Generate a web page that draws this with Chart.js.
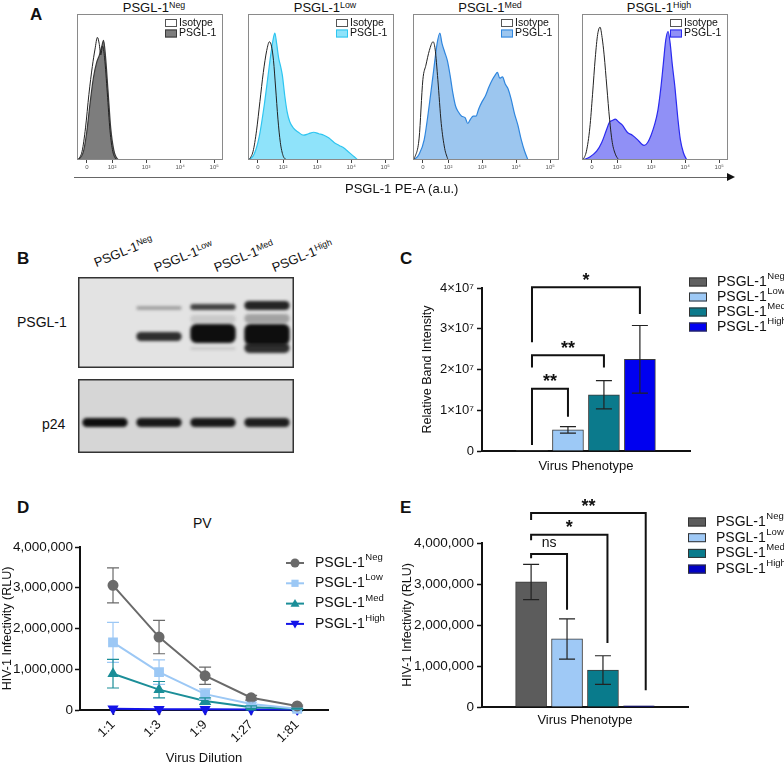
<!DOCTYPE html>
<html>
<head>
<meta charset="utf-8">
<script src="https://cdn.jsdelivr.net/npm/chart.js@4.4.0/dist/chart.umd.min.js"></script>
<style>
    body { margin: 0; background: #fff; }
    #fig { position: relative; width: 784px; height: 765px; overflow: hidden; font-family: "Liberation Sans", Arial, sans-serif; color: #111; }
    #fig canvas { position: absolute; }
    .t { position: absolute; white-space: nowrap; line-height: 1; }
    .t sup { font-size: 0.68em; vertical-align: baseline; position: relative; top: -0.5em; }
    .letter { font-weight: bold; font-size: 17px; }
    .ftitle { width: 146px; text-align: center; font-size: 13px; top: 1px; }
    .lane { font-size: 13px; transform: rotate(-22deg); transform-origin: 0 100%; }
</style>
</head>
<body>
<div id="fig">
    <div class="t letter" style="left:30px;top:6px">A</div>
    <div class="t ftitle" style="left:81px">PSGL-1<sup>Neg</sup></div>
    <div class="t ftitle" style="left:252px">PSGL-1<sup>Low</sup></div>
    <div class="t ftitle" style="left:417px">PSGL-1<sup>Med</sup></div>
    <div class="t ftitle" style="left:586px">PSGL-1<sup>High</sup></div>
    <canvas id="flow0" width="156" height="163" style="left:72px;top:12px"></canvas>
    <canvas id="flow1" width="156" height="163" style="left:243px;top:12px"></canvas>
    <canvas id="flow2" width="156" height="163" style="left:408px;top:12px"></canvas>
    <canvas id="flow3" width="156" height="163" style="left:577px;top:12px"></canvas>
    <div style="position:absolute;left:74px;top:177px;width:654px;height:1px;background:#666"></div>
    <div style="position:absolute;left:727px;top:173px;width:0;height:0;border-left:8px solid #111;border-top:4.5px solid transparent;border-bottom:4.5px solid transparent"></div>
    <div class="t" style="left:345px;top:182px;font-size:13px">PSGL-1 PE-A (a.u.)</div>

    <div class="t letter" style="left:17px;top:250px">B</div>
    <div class="t lane" style="left:97px;top:256px">PSGL-1<sup>Neg</sup></div>
    <div class="t lane" style="left:157px;top:261px">PSGL-1<sup>Low</sup></div>
    <div class="t lane" style="left:217px;top:261px">PSGL-1<sup>Med</sup></div>
    <div class="t lane" style="left:275px;top:261px">PSGL-1<sup>High</sup></div>
    <div class="t" style="left:17px;top:315px;font-size:14px">PSGL-1</div>
    <div class="t" style="left:42px;top:417px;font-size:14px">p24</div>
    <canvas id="blotTop" width="216" height="91" style="left:78px;top:277px"></canvas>
    <canvas id="blotBottom" width="216" height="74" style="left:78px;top:379px"></canvas>

    <div class="t letter" style="left:400px;top:250px">C</div>
    <canvas id="chartC" width="384" height="215" style="left:400px;top:265px"></canvas>

    <div class="t letter" style="left:17px;top:499px">D</div>
    <div class="t" style="left:193px;top:516px;font-size:14px">PV</div>
    <canvas id="chartD" width="400" height="232" style="left:0px;top:535px"></canvas>

    <div class="t letter" style="left:400px;top:499px">E</div>
    <canvas id="chartE" width="384" height="240" style="left:400px;top:495px"></canvas>
</div>
<script>
const FONT = '"Liberation Sans", Arial, sans-serif';

// ---- A: flow histograms, x in decades of the biexponential axis, y = % of mode
const FLOW_TICKS = [1.26, 2, 3, 4, 5];
const FLOW_TICK_LABELS = ['0', '10\u00B2', '10\u00B3', '10\u2074', '10\u2075'];
const FLOW_FILL = ['#7d7d7d', '#8fe3fa', '#9cc6ef', '#9090f6'];
const FLOW_LINE = ['#3a3a3a', '#2ec5f0', '#2f86de', '#2a2af0'];

const NEG_ISO = [[1.0, 0], [1.12, 6], [1.22, 22], [1.32, 45], [1.42, 64], [1.5, 76], [1.57, 84], [1.62, 80], [1.67, 72], [1.72, 78], [1.78, 70], [1.86, 46], [1.94, 20], [2.02, 6], [2.12, 0]];
const NEG_PSGL = [[1.0, 0], [1.15, 5], [1.25, 18], [1.35, 38], [1.45, 56], [1.55, 67], [1.63, 72], [1.7, 78], [1.75, 82], [1.8, 73], [1.88, 48], [1.96, 22], [2.05, 7], [2.15, 1], [2.25, 0]];
const LOW_ISO = [[1.0, 0], [1.12, 6], [1.22, 20], [1.32, 40], [1.42, 60], [1.52, 75], [1.6, 81], [1.66, 78], [1.72, 68], [1.78, 50], [1.85, 28], [1.92, 12], [2.0, 3], [2.1, 0]];
const LOW_PSGL = [[1.0, 0], [1.15, 4], [1.3, 16], [1.45, 38], [1.55, 56], [1.65, 74], [1.72, 84], [1.76, 87], [1.81, 80], [1.87, 70], [1.93, 64], [1.98, 58], [2.05, 44], [2.12, 33], [2.2, 26], [2.3, 22], [2.45, 19], [2.6, 17], [2.75, 18], [2.9, 19], [3.05, 18], [3.2, 17], [3.35, 15], [3.5, 12], [3.65, 10], [3.8, 8], [3.9, 6], [4.0, 4], [4.1, 2], [4.2, 0]];
const MED_ISO = [[1.0, 0], [1.15, 15], [1.26, 55], [1.35, 65], [1.45, 75], [1.56, 81], [1.62, 76], [1.7, 55], [1.8, 25], [1.9, 8], [2.0, 0]];
const MED_PSGL = [[1.0, 0], [1.15, 4], [1.3, 14], [1.45, 38], [1.58, 62], [1.68, 80], [1.76, 87], [1.82, 80], [1.9, 74], [1.98, 68], [2.06, 58], [2.14, 46], [2.22, 37], [2.3, 33], [2.4, 30], [2.5, 29], [2.58, 25], [2.66, 28], [2.74, 30], [2.82, 30], [2.9, 35], [3.0, 40], [3.1, 44], [3.2, 50], [3.3, 55], [3.38, 58], [3.45, 60], [3.52, 56], [3.6, 57], [3.68, 52], [3.76, 49], [3.85, 42], [3.95, 32], [4.05, 24], [4.15, 14], [4.25, 6], [4.35, 0]];
const HIGH_ISO = [[1.0, 0], [1.1, 6], [1.2, 22], [1.28, 45], [1.36, 70], [1.43, 86], [1.5, 91], [1.56, 84], [1.62, 72], [1.7, 50], [1.78, 28], [1.86, 12], [1.95, 4], [2.05, 0]];
const HIGH_PSGL = [[1.0, 0], [1.2, 2], [1.4, 6], [1.55, 12], [1.68, 20], [1.78, 26], [1.86, 27], [1.95, 28], [2.05, 26], [2.15, 24], [2.3, 19], [2.45, 17], [2.6, 14], [2.72, 11], [2.8, 10], [2.9, 12], [3.0, 17], [3.1, 24], [3.2, 34], [3.28, 48], [3.36, 66], [3.43, 82], [3.5, 88], [3.56, 80], [3.62, 66], [3.7, 50], [3.78, 30], [3.86, 14], [3.95, 5], [4.05, 0]];

// ---- B: western blot, band extent in px from gel top and band darkness
const LANES = ['Neg', 'Low', 'Med', 'High'];
const BAND_UPPER = [null, [29, 33], [27, 33], [24, 33]];
const BAND_UPPER_INT = [0, 0.3, 0.75, 0.9];
const BAND_SMEAR = [null, null, [38, 46], [37, 46]];
const BAND_SMEAR_INT = [0, 0, 0.12, 0.3];
const BAND_MAIN = [null, [55, 64], [47, 66], [47, 68]];
const BAND_MAIN_INT = [0, 0.85, 1, 1];
const BAND_LOWER = [null, null, [70, 73], [66, 76]];
const BAND_LOWER_INT = [0, 0, 0.12, 0.85];
const BAND_P24 = [[39, 48], [39, 48], [39, 48], [39, 48]];
const BAND_P24_INT = [1, 0.95, 0.95, 0.92];

// ---- C: relative band intensity
const GROUPS = ['Neg', 'Low', 'Med', 'High'];
const C_VALUES = [0, 5.2e6, 1.38e7, 2.25e7];
const C_ERR = [0, 0.8e6, 3.45e6, 8.3e6];
const C_COLORS = ['#606060', '#9dc9f6', '#0b7a8c', '#0000f0'];
const C_BRACKETS = [
    { a: 0, b: 1, y: 1.53e7, la: 0.15e7, lb: 0.84e7, label: '**' },
    { a: 0, b: 2, y: 2.35e7, la: 2.05e7, lb: 2.05e7, label: '**' },
    { a: 0, b: 3, y: 4.02e7, la: 2.67e7, lb: 3.36e7, label: '*' },
];

// ---- D: infectivity vs dilution
const DILUTIONS = ['1:1', '1:3', '1:9', '1:27', '1:81'];
const D_NEG = [3.06e6, 1.79e6, 0.84e6, 0.30e6, 0.10e6];
const D_NEG_ERR = [0.43e6, 0.41e6, 0.21e6, 0.06e6, 0.02e6];
const D_LOW = [1.66e6, 0.93e6, 0.39e6, 0.15e6, 0.03e6];
const D_LOW_ERR = [0.49e6, 0.30e6, 0.13e6, 0.04e6, 0.01e6];
const D_MED = [0.89e6, 0.50e6, 0.22e6, 0.07e6, 0.03e6];
const D_MED_ERR = [0.35e6, 0.20e6, 0.08e6, 0.03e6, 0.01e6];
const D_HIGH = [0.03e6, 0.02e6, 0.02e6, 0.01e6, 0.01e6];
const D_HIGH_ERR = [0, 0, 0, 0, 0];
const D_COLORS = ['#6a6a6a', '#9cc8f5', '#1b8e98', '#1414e8'];
const D_STYLES = ['circle', 'rect', 'triangle', 'triangleDown'];

// ---- E: infectivity at 1:1
const E_VALUES = [3.05e6, 1.66e6, 0.9e6, 0.03e6];
const E_ERR = [0.43e6, 0.49e6, 0.35e6, 0];
const E_COLORS = ['#5c5c5c', '#9fc9f6', '#097b8c', '#0000c4'];
const E_BRACKETS = [
    { a: 0, b: 1, y: 3.73e6, la: 3.63e6, lb: 2.37e6, label: 'ns' },
    { a: 0, b: 2.125, y: 4.2e6, la: 4.07e6, lb: 1.56e6, label: '*' },
    { a: 0, b: 3.19, y: 4.73e6, la: 4.56e6, lb: 0.41e6, label: '**' },
];

Chart.defaults.font.family = FONT;
Chart.defaults.color = '#111';
Chart.defaults.animation = false;
Chart.defaults.plugins.legend.display = false;
Chart.defaults.plugins.tooltip.enabled = false;

function drawRich(ctx, x, y, base, sup, size) {
    ctx.fillStyle = '#111';
    ctx.textAlign = 'left';
    ctx.textBaseline = 'middle';
    ctx.font = `${size}px ${FONT}`;
    ctx.fillText(base, x, y);
    if (sup) {
        const w = ctx.measureText(base).width;
        ctx.font = `${size * 0.68}px ${FONT}`;
        ctx.fillText(sup, x + w + 0.5, y - size * 0.4);
    }
}

function drawMarker(ctx, style, x, y, r) {
    ctx.beginPath();
    if (style === 'circle') {
        ctx.arc(x, y, r, 0, Math.PI * 2);
    } else if (style === 'rect') {
        ctx.rect(x - r * 0.8, y - r * 0.8, r * 1.6, r * 1.6);
    } else if (style === 'triangle') {
        ctx.moveTo(x, y - r); ctx.lineTo(x + r, y + r * 0.7); ctx.lineTo(x - r, y + r * 0.7);
    } else {
        ctx.moveTo(x, y + r); ctx.lineTo(x + r, y - r * 0.7); ctx.lineTo(x - r, y - r * 0.7);
    }
    ctx.closePath();
    ctx.fill();
}

// legend with superscripts, boxes or line+marker
const richLegend = {
    id: 'richLegend',
    afterDraw(chart, args, o) {
        const ctx = chart.ctx;
        ctx.save();
        o.items.forEach((it, i) => {
            const y = o.y + i * o.dy;
            if (it.style) {
                ctx.strokeStyle = it.color;
                ctx.fillStyle = it.color;
                ctx.lineWidth = 2;
                ctx.beginPath();
                ctx.moveTo(o.x - 9, y); ctx.lineTo(o.x + 9, y);
                ctx.stroke();
                drawMarker(ctx, it.style, o.x, y, 4.5);
            } else {
                ctx.fillStyle = it.fill;
                ctx.strokeStyle = it.stroke;
                ctx.lineWidth = 1;
                ctx.fillRect(o.x, y - o.bh / 2, o.bw, o.bh);
                ctx.strokeRect(o.x + 0.5, y - o.bh / 2 + 0.5, o.bw - 1, o.bh - 1);
            }
            drawRich(ctx, o.tx, y, it.text, it.sup, o.size);
        });
        ctx.restore();
    }
};

const frame = {
    id: 'frame',
    beforeDraw(chart, args, o) {
        if (!o.bg) return;
        const { ctx, chartArea: a } = chart;
        ctx.save();
        ctx.fillStyle = o.bg;
        ctx.fillRect(a.left, a.top, a.width, a.height);
        ctx.restore();
    },
    afterDraw(chart, args, o) {
        const { ctx, chartArea: a } = chart;
        const w = o.width || 1;
        ctx.save();
        ctx.strokeStyle = o.color || '#888';
        ctx.lineWidth = w;
        ctx.strokeRect(a.left + w / 2, a.top + w / 2, a.width - w, a.height - w);
        ctx.restore();
    }
};

const blur = {
    id: 'blur',
    beforeDatasetsDraw(chart) { chart.ctx.save(); chart.ctx.filter = 'blur(1.6px)'; },
    afterDatasetsDraw(chart) { chart.ctx.restore(); }
};

const errorBars = {
    id: 'errorBars',
    afterDatasetsDraw(chart, args, o) {
        const { ctx } = chart;
        const y = chart.scales.y;
        ctx.save();
        chart.data.datasets.forEach((ds, i) => {
            const errs = o.errors[i];
            if (!errs) return;
            chart.getDatasetMeta(i).data.forEach((el, j) => {
                const e = errs[j];
                if (!e) return;
                const v = ds.data[j].y;
                const top = y.getPixelForValue(v + e);
                const bot = y.getPixelForValue(v - e);
                ctx.strokeStyle = o.colors[i];
                ctx.lineWidth = o.width;
                ctx.beginPath();
                ctx.moveTo(el.x, top); ctx.lineTo(el.x, bot);
                ctx.moveTo(el.x - o.cap, top); ctx.lineTo(el.x + o.cap, top);
                ctx.moveTo(el.x - o.cap, bot); ctx.lineTo(el.x + o.cap, bot);
                ctx.stroke();
            });
        });
        ctx.restore();
    }
};

const brackets = {
    id: 'brackets',
    afterDraw(chart, args, o) {
        const { ctx, scales: { x, y } } = chart;
        ctx.save();
        ctx.strokeStyle = '#111';
        ctx.fillStyle = '#111';
        ctx.lineWidth = 2;
        o.items.forEach(b => {
            const xa = x.getPixelForValue(b.a);
            const xb = x.getPixelForValue(b.b);
            const yy = y.getPixelForValue(b.y);
            ctx.beginPath();
            ctx.moveTo(xa, y.getPixelForValue(b.la));
            ctx.lineTo(xa, yy);
            ctx.lineTo(xb, yy);
            ctx.lineTo(xb, y.getPixelForValue(b.lb));
            ctx.stroke();
            ctx.font = b.label === 'ns' ? `14px ${FONT}` : `bold 18px ${FONT}`;
            ctx.textAlign = 'center';
            ctx.textBaseline = 'alphabetic';
            const m = ctx.measureText(b.label);
            const yc = yy - 11;
            ctx.fillText(b.label, (xa + xb) / 2, yc + (m.actualBoundingBoxAscent - m.actualBoundingBoxDescent) / 2);
        });
        ctx.restore();
    }
};

function toPoints(pairs) {
    return pairs.map(([x, y]) => ({ x, y }));
}

function renderFlowChart(idx, iso, psgl) {
    const elm = document.getElementById('flow' + idx);
    new Chart(elm.getContext('2d'), {
        type: 'line',
        data: {
            datasets: [
                { data: toPoints(iso), borderColor: '#222', borderWidth: 1, fill: false, pointRadius: 0, cubicInterpolationMode: 'monotone' },
                { data: toPoints(psgl), borderColor: FLOW_LINE[idx], backgroundColor: FLOW_FILL[idx], borderWidth: 1.2, fill: 'origin', pointRadius: 0, cubicInterpolationMode: 'monotone' },
            ],
        },
        options: {
            responsive: false,
            layout: { padding: { left: 5, right: 5, top: 2, bottom: 0 } },
            scales: {
                x: {
                    type: 'linear', min: 0.97, max: 5.26,
                    afterBuildTicks: axis => { axis.ticks = FLOW_TICKS.map(v => ({ value: v })); },
                    afterFit: scale => { scale.height = 15; },
                    ticks: { autoSkip: false, maxRotation: 0, font: { size: 6 }, color: '#555', padding: 1, callback: (v, i) => FLOW_TICK_LABELS[i] },
                    grid: { drawOnChartArea: false, tickLength: 3, tickColor: '#444' },
                    border: { display: false },
                },
                y: { display: false, min: 0, max: 100 },
            },
            plugins: {
                frame: { color: '#8a8a8a', width: 1 },
                richLegend: {
                    x: 93, y: 11, dy: 10.5, bw: 12, bh: 8, tx: 107, size: 10.5,
                    items: [
                        { text: 'Isotype', fill: '#fff', stroke: '#555' },
                        { text: 'PSGL-1', fill: FLOW_FILL[idx], stroke: FLOW_LINE[idx] },
                    ],
                },
            },
        },
        plugins: [frame, richLegend],
    });
}

function renderBlot(id, bands, bg) {
    const elm = document.getElementById(id);
    const shade = a => `rgba(14,14,14,${a})`;
    new Chart(elm.getContext('2d'), {
        type: 'bar',
        data: {
            labels: LANES,
            datasets: bands.map(([ranges, ints]) => ({ data: ranges, backgroundColor: ints.map(shade) })),
        },
        options: {
            responsive: false,
            layout: { padding: 0 },
            datasets: { bar: { barPercentage: 0.84, categoryPercentage: 1, borderRadius: 6, borderSkipped: false } },
            scales: {
                x: { display: false, stacked: true },
                y: { display: false, min: 0, max: elm.height, reverse: true },
            },
            plugins: { frame: { color: '#333', width: 1.5, bg } },
        },
        plugins: [frame, blur],
    });
}

function groupLegend(colors, x, y, dy) {
    return {
        x, y, dy, bw: 18, bh: 9, tx: x + 28, size: 14,
        items: GROUPS.map((g, i) => ({ text: 'PSGL-1', sup: g, fill: colors[i], stroke: '#333' })),
    };
}

function axisStyle() {
    return {
        grid: { display: true, drawOnChartArea: false, tickLength: 5, tickColor: '#111', tickWidth: 1.5 },
        border: { color: '#111', width: 2 },
    };
}

function renderBarChart(id, values, errs, colors, opts) {
    const elm = document.getElementById(id);
    new Chart(elm.getContext('2d'), {
        type: 'bar',
        data: {
            datasets: [{
                data: values.map((v, i) => ({ x: i, y: v })),
                backgroundColor: colors,
                borderColor: '#3a3a3a',
                borderWidth: values.map(v => (v > 0 ? 1 : 0)),
                barThickness: 31,
            }],
        },
        options: {
            responsive: false,
            layout: { padding: opts.padding },
            scales: {
                x: {
                    type: 'linear', min: opts.xMin, max: opts.xMax,
                    afterFit: scale => { scale.height = opts.xHeight; },
                    ticks: { display: false },
                    grid: { display: false },
                    border: { color: '#111', width: 2 },
                    title: { display: true, text: 'Virus Phenotype', font: { size: 13 }, padding: { top: 0, bottom: opts.titlePad } },
                },
                y: {
                    min: 0, max: opts.yMax,
                    afterFit: scale => { scale.width = opts.yWidth; },
                    ticks: { stepSize: opts.yStep, font: { size: opts.tickSize }, padding: 3, callback: opts.tickFormat },
                    title: { display: true, text: opts.yTitle, font: { size: 12.5 }, padding: 0 },
                    ...axisStyle(),
                },
            },
            plugins: {
                errorBars: { errors: [errs], colors: ['#222'], width: 1.2, cap: 8 },
                brackets: { items: opts.brackets },
                richLegend: opts.legend,
            },
        },
        plugins: [errorBars, brackets, richLegend],
    });
}

function renderDilutionChart() {
    const elm = document.getElementById('chartD');
    const series = [D_NEG, D_LOW, D_MED, D_HIGH];
    const errs = [D_NEG_ERR, D_LOW_ERR, D_MED_ERR, D_HIGH_ERR];
    new Chart(elm.getContext('2d'), {
        type: 'line',
        data: {
            datasets: series.map((s, i) => ({
                data: s.map((v, j) => ({ x: j, y: v })),
                borderColor: D_COLORS[i],
                backgroundColor: D_COLORS[i],
                borderWidth: 2,
                pointStyle: D_STYLES[i] === 'triangleDown' ? 'triangle' : D_STYLES[i],
                rotation: D_STYLES[i] === 'triangleDown' ? 180 : 0,
                pointRadius: D_STYLES[i] === 'rect' ? 5.5 : 4.5,
                tension: 0,
                clip: false,
            })),
        },
        options: {
            responsive: false,
            layout: { padding: { left: 0, right: 72, top: 12, bottom: 0 } },
            scales: {
                x: {
                    type: 'linear', min: -0.717, max: 4.67,
                    afterBuildTicks: axis => { axis.ticks = DILUTIONS.map((d, i) => ({ value: i })); },
                    afterFit: scale => { scale.height = 57; },
                    ticks: { autoSkip: false, minRotation: 45, maxRotation: 45, font: { size: 13 }, padding: 2, callback: v => DILUTIONS[v] },
                    title: { display: true, text: 'Virus Dilution', font: { size: 13 }, padding: { top: 0, bottom: 1 } },
                    ...axisStyle(),
                },
                y: {
                    min: 0, max: 4e6,
                    afterFit: scale => { scale.width = 80; },
                    ticks: { stepSize: 1e6, font: { size: 13.5 }, padding: 2, callback: v => v.toLocaleString('en-US') },
                    title: { display: true, text: 'HIV-1 Infectivity (RLU)', font: { size: 12.5 }, padding: 0 },
                    ...axisStyle(),
                },
            },
            plugins: {
                errorBars: { errors: errs, colors: D_COLORS, width: 1.2, cap: 6 },
                richLegend: {
                    x: 295, y: 28, dy: 20.3, tx: 315, size: 14,
                    items: GROUPS.map((g, i) => ({ text: 'PSGL-1', sup: g, color: D_COLORS[i], style: D_STYLES[i] })),
                },
            },
        },
        plugins: [errorBars, richLegend],
    });
}

(function () {
    renderFlowChart(0, NEG_ISO, NEG_PSGL);
    renderFlowChart(1, LOW_ISO, LOW_PSGL);
    renderFlowChart(2, MED_ISO, MED_PSGL);
    renderFlowChart(3, HIGH_ISO, HIGH_PSGL);

    renderBlot('blotTop', [
        [BAND_SMEAR, BAND_SMEAR_INT],
        [BAND_UPPER, BAND_UPPER_INT],
        [BAND_MAIN, BAND_MAIN_INT],
        [BAND_LOWER, BAND_LOWER_INT],
    ], '#e3e3e3');
    renderBlot('blotBottom', [[BAND_P24, BAND_P24_INT]], '#d6d6d6');

    renderBarChart('chartC', C_VALUES, C_ERR, C_COLORS, {
        padding: { left: 20, right: 94, top: 23, bottom: 0 },
        xMin: -0.667, xMax: 3.67, xHeight: 29, titlePad: 6,
        yMax: 4e7, yStep: 1e7, yWidth: 62, tickSize: 13,
        yTitle: 'Relative Band Intensity',
        tickFormat: v => (v === 0 ? '0' : `${v / 1e7}\u00D710\u2077`),
        brackets: C_BRACKETS,
        legend: groupLegend(C_COLORS, 289, 17, 15),
    });

    renderDilutionChart();

    renderBarChart('chartE', E_VALUES, E_ERR, E_COLORS, {
        padding: { left: 0, right: 96, top: 48, bottom: 0 },
        xMin: -0.65, xMax: 3.65, xHeight: 28, titlePad: 7,
        yMax: 4e6, yStep: 1e6, yWidth: 82, tickSize: 13.5,
        yTitle: 'HIV-1 Infectivity (RLU)',
        tickFormat: v => v.toLocaleString('en-US'),
        brackets: E_BRACKETS,
        legend: groupLegend(E_COLORS, 288, 27, 15.7),
    });
})();
</script>
</body>
</html>
